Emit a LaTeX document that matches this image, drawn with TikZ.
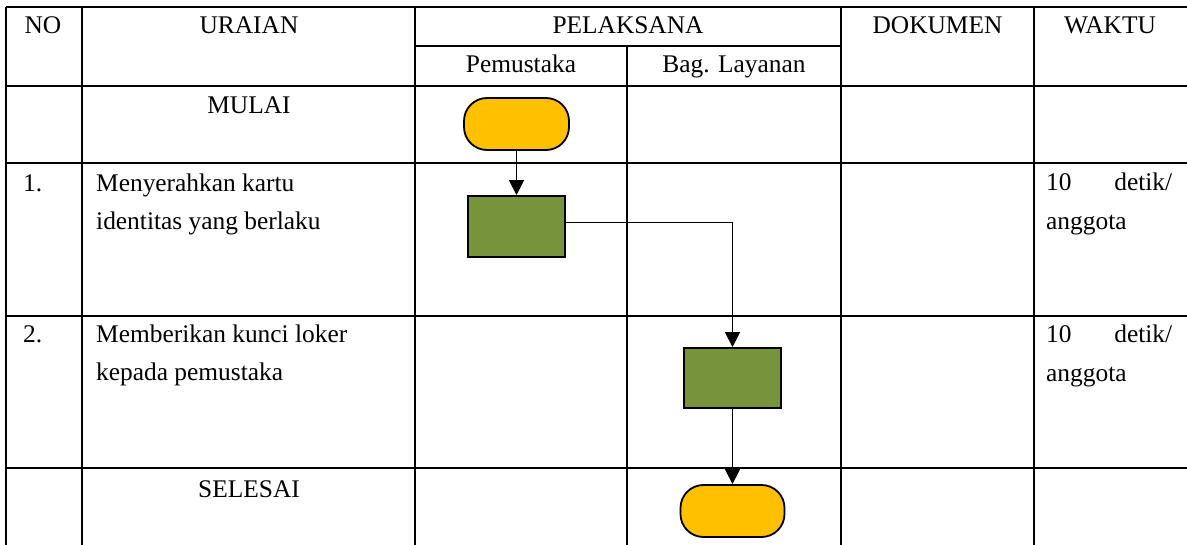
\documentclass[tikz,border=0pt]{standalone}
\usepackage{fontspec}
\setmainfont{Liberation Serif}
\usetikzlibrary{arrows.meta}
\definecolor{termyellow}{HTML}{FFC000}
\definecolor{procgreen}{HTML}{77933C}
\begin{document}
\begin{tikzpicture}[x=1pt,y=-1pt,
  grid/.style={line width=1.5pt},
  txt/.style={inner sep=0pt, font=\fontsize{25.4pt}{30pt}\selectfont},
  terminal/.style={draw, line width=1.8pt, fill=termyellow, rounded corners=23pt, minimum width=105pt, minimum height=52pt, inner sep=0pt},
  process/.style={draw, line width=1.8pt, fill=procgreen, minimum width=97pt, minimum height=61pt, inner sep=0pt},
  flow/.style={line width=1.5pt, -{Triangle[width=15pt,length=15pt]}}]
\useasboundingbox (0,0) rectangle (1187,545);
% table grid
\draw[grid] (6,7) -- (1187,7);
\draw[grid] (415,46) -- (841,46);
\draw[grid] (6,86) -- (1187,86);
\draw[grid] (6,163) -- (1187,163);
\draw[grid] (6,316) -- (1187,316);
\draw[grid] (6,468) -- (1187,468);
\foreach \x in {6,82,415,841,1034} \draw[grid] (\x,7) -- (\x,545);
\draw[grid] (627,46) -- (627,545);
% header texts
\node[txt, anchor=base] (hno) at (43,34) {NO};
\node[txt, anchor=base] (hur) at (249,34) {URAIAN};
\node[txt, anchor=base] (hpel) at (628,34) {PELAKSANA};
\node[txt, anchor=base] (hdok) at (937.5,34) {DOKUMEN};
\node[txt, anchor=base] (hwak) at (1110,34) {WAKTU};
\node[txt, anchor=base] (hpem) at (521,73) {Pemustaka};
\node[txt, anchor=base] (hbag) at (734,73) {Bag. Layanan};
% rows
\node[txt, anchor=base] (mulai) at (249,114) {MULAI};
\node[txt, anchor=base west] (no1) at (23,192) {1.};
\node[txt, anchor=base west] (u1a) at (96,192) {Menyerahkan kartu};
\node[txt, anchor=base west] (u1b) at (96,230) {identitas yang berlaku};
\node[txt, anchor=base west] (w1a) at (1046,191) {\makebox[126pt][s]{10\hfill detik/}};
\node[txt, anchor=base west] (w1b) at (1046,230) {anggota};
\node[txt, anchor=base west] (no2) at (23,343) {2.};
\node[txt, anchor=base west] (u2a) at (96,343) {Memberikan kunci loker};
\node[txt, anchor=base west] (u2b) at (96,381) {kepada pemustaka};
\node[txt, anchor=base west] (w2a) at (1046,343) {\makebox[126pt][s]{10\hfill detik/}};
\node[txt, anchor=base west] (w2b) at (1046,382) {anggota};
\node[txt, anchor=base] (selesai) at (249,497) {SELESAI};
% flow shapes
\node[terminal] (t1) at (516.5,124) {};
\node[process] (r1) at (516.5,226.5) {};
\node[process, minimum height=60pt] (r2) at (732.5,378) {};
\node[terminal, minimum width=104pt] (t2) at (732.5,511) {};
\draw[flow] (t1) -- (r1);
\draw[flow] ([yshift=4pt]r1.east) -| (r2.north);
\draw[flow] (r2) -- (t2);
\end{tikzpicture}
\end{document}
